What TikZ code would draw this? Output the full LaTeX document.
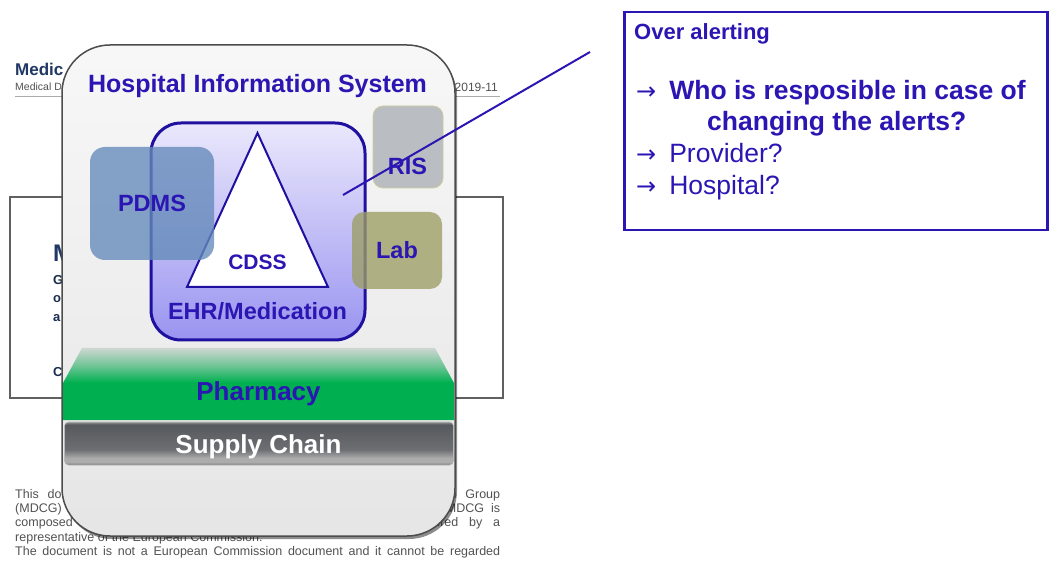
\documentclass[tikz,border=0pt]{standalone}
\usepackage{fontspec}
\setmainfont{Liberation Sans}
\newfontfamily\arrowfont{DejaVu Sans}
\usetikzlibrary{positioning,shadows}

\definecolor{hisblue}{RGB}{43,22,179}
\definecolor{ehrline}{RGB}{32,16,160}
\definecolor{ehrtop}{RGB}{234,232,252}
\definecolor{ehrbot}{RGB}{154,148,240}
\definecolor{pdmsfill}{RGB}{100,138,186}
\definecolor{risfill}{RGB}{186,189,193}
\definecolor{risline}{RGB}{205,205,160}
\definecolor{labfill}{RGB}{156,158,100}
\definecolor{pgreen}{RGB}{0,176,80}
\definecolor{pfade}{RGB}{206,214,210}
\colorlet{pmid}{pgreen!45!pfade}
\definecolor{sctop}{RGB}{150,150,150}
\definecolor{scdark}{RGB}{86,89,93}
\definecolor{scmid}{RGB}{108,110,114}
\definecolor{scshine}{RGB}{172,172,172}
\definecolor{scedge}{RGB}{105,105,105}
\definecolor{docblue}{RGB}{31,56,100}

\newcommand{\qarrow}{{\arrowfont\mdseries\fontsize{24}{28}\selectfont →}\hspace{13pt}}

\pgfdeclareverticalshading{pharmshade}{100bp}{color(0bp)=(pgreen); color(51bp)=(pgreen); color(63bp)=(pmid); color(75bp)=(pfade); color(100bp)=(pfade)}
\pgfdeclareverticalshading{supplyshade}{100bp}{color(0bp)=(scedge); color(25bp)=(scedge); color(28bp)=(scshine); color(33bp)=(scshine); color(43bp)=(scmid); color(72bp)=(scdark); color(75bp)=(sctop); color(100bp)=(sctop)}

\begin{document}
\begin{tikzpicture}[x=1pt, y=-1pt,
    doctxt/.style={anchor=base west, inner sep=0pt, text=black!68, font=\fontsize{12.5}{14}\selectfont},
    hisbox/.style={draw=gray!60!black, line width=1.5pt, rounded corners=48pt, inner sep=0pt,
        top color=gray!6, bottom color=gray!20,
        drop shadow={shadow xshift=2pt, shadow yshift=-3pt, opacity=0.45, fill=black}},
    ehrbox/.style={draw=ehrline, line width=3pt, rounded corners=30pt, inner sep=0pt,
        top color=ehrtop, bottom color=ehrbot},
    sidebox/.style={rounded corners=12pt, inner sep=0pt, text=hisblue,
        font=\bfseries\fontsize{23.5}{28}\selectfont, text height=17pt, text depth=0pt},
    boxlbl/.style={anchor=base, inner sep=0pt, text=hisblue, font=\bfseries\fontsize{24}{28}\selectfont},
    callbox/.style={draw=hisblue, line width=2.5pt, fill=white, inner sep=0pt},
    calltxt/.style={anchor=base west, inner sep=0pt, text=hisblue, font=\bfseries\fontsize{26.5}{30}\selectfont},
    calltxtlight/.style={calltxt, font=\fontsize{26.5}{30}\selectfont},
]
    \useasboundingbox[fill=white] (0,0) rectangle (1050,561);

    % document page in the background
    \node[anchor=base west, inner sep=0pt, text=docblue, font=\bfseries\fontsize{17}{20}\selectfont] (doctitle) at (15,76) {Medic};
    \node[doctxt, font=\fontsize{10.5}{12}\selectfont] (docsub) at (15,91) {Medical D};
    \node[doctxt, anchor=base east, font=\fontsize{12}{12}\selectfont] (docref) at (498,92) {2019-11};
    \draw[gray!65, line width=0.9pt] (15,96) -- (500,96);
    \draw[gray!75!black, line width=1.6pt, fill=white] (10,197) rectangle (503,398);
    \node[anchor=base west, inner sep=0pt, text=docblue, font=\bfseries\fontsize{24}{28}\selectfont] (docbig) at (53,262) {M};
    \node[doctxt, text=docblue!80!black, font=\bfseries\fontsize{13}{14}\selectfont] (docg) at (53,285) {G};
    \node[doctxt, text=docblue!80!black, font=\bfseries\fontsize{13}{14}\selectfont] (doco) at (53,303) {o};
    \node[doctxt, text=docblue!80!black, font=\bfseries\fontsize{13}{14}\selectfont] (doca) at (53,322) {a};
    \node[doctxt, text=docblue!80!black, font=\bfseries\fontsize{13}{14}\selectfont] (docc) at (53,377) {C};
    \node[doctxt] (dis1) at (15,498) {\makebox[485pt][s]{This document has been endorsed by the Medical Device Coordination Group}};
    \node[doctxt] (dis2) at (15,512) {\makebox[485pt][s]{(MDCG) established by Article 103 of Regulation (EU) 2017/745. The MDCG is}};
    \node[doctxt] (dis3) at (15,526) {\makebox[485pt][s]{composed of representatives of all Member States and it is chaired by a}};
    \node[doctxt] (dis4) at (15,541) {representative of the European Commission.};
    \node[doctxt] (dis5) at (15,555) {\makebox[485pt][s]{The document is not a European Commission document and it cannot be regarded}};

    % Hospital Information System
    \node[hisbox, minimum width=393pt, minimum height=491pt] (his) at (258.5,290.5) {};
    \node[boxlbl, font=\bfseries\fontsize{25}{30}\selectfont] (hislbl) at (257.5,93) {Hospital Information System};

    % Pharmacy and Supply Chain
    \shade[shading=pharmshade] (82,348) -- (435,348) -- (454,383) -- (454,420) -- (63,420) -- (63,383) -- cycle;
    \node[boxlbl, font=\bfseries\fontsize{26}{30}\selectfont] (pharm) at (258.5,400) {Pharmacy};
    \node[draw=gray!55, line width=0.6pt, rounded corners=4pt, shading=supplyshade, minimum width=389pt, minimum height=43pt] (supply) at (259,443.5) {};
    \node[boxlbl, text=white, font=\bfseries\fontsize{26}{30}\selectfont] (supplylbl) at (258.5,453) {Supply Chain};

    % EHR with the CDSS inside
    \node[ehrbox, minimum width=214pt, minimum height=217pt] (ehr) at (258,231.5) {};
    \node[boxlbl, font=\bfseries\fontsize{23.5}{28}\selectfont] (ehrlbl) at (257.5,320) {EHR/Medication};
    \coordinate (cdtop) at (257.5,133);
    \coordinate (cdright) at (328,287);
    \coordinate (cdleft) at (187,287);
    \draw[ehrline, line width=2pt, fill=white, line join=miter] (cdtop) -- (cdright) -- (cdleft) -- cycle;
    \node[boxlbl, font=\bfseries\fontsize{21}{25}\selectfont] (cdss) at (257.5,270) {CDSS};

    % other systems
    \node[sidebox, fill=pdmsfill, fill opacity=0.78, text opacity=1, rounded corners=15pt, minimum width=124pt, minimum height=113pt] (pdms) at (152,203.5) {PDMS};
    \node[sidebox, fill=risfill, draw=risline, line width=0.8pt, rounded corners=10pt, minimum width=70pt, minimum height=82pt] (ris) at (408,147) {};
    \node[boxlbl, font=\bfseries\fontsize{23.5}{28}\selectfont] (rislbl) at (407.5,175) {RIS};
    \node[sidebox, fill=labfill, fill opacity=0.78, text opacity=1, minimum width=90pt, minimum height=77pt] (lab) at (397,250.5) {Lab};

    % pointer to the question
    \coordinate (pin) at (343,195);
    \coordinate (pull) at (590,52);
    \draw[hisblue, line width=2pt] (pin) -- (pull);

    % question box
    \node[callbox, minimum width=423pt, minimum height=218pt] (alert) at (836,121) {};
    \node[calltxt, font=\bfseries\fontsize{22}{26}\selectfont] (over) at (634,40) {Over alerting};
    \node[calltxt, below=60pt of over.base west, anchor=base west, xshift=2pt] (who) {\qarrow Who is resposible in case of};
    \node[calltxt, below=31pt of who.base west, anchor=base west, xshift=71pt] (changing) {changing the alerts?};
    \node[calltxtlight, below=63pt of who.base west, anchor=base west] (provider) {\qarrow Provider?};
    \node[calltxtlight, below=32pt of provider.base west, anchor=base west] (hospital) {\qarrow Hospital?};
\end{tikzpicture}
\end{document}
